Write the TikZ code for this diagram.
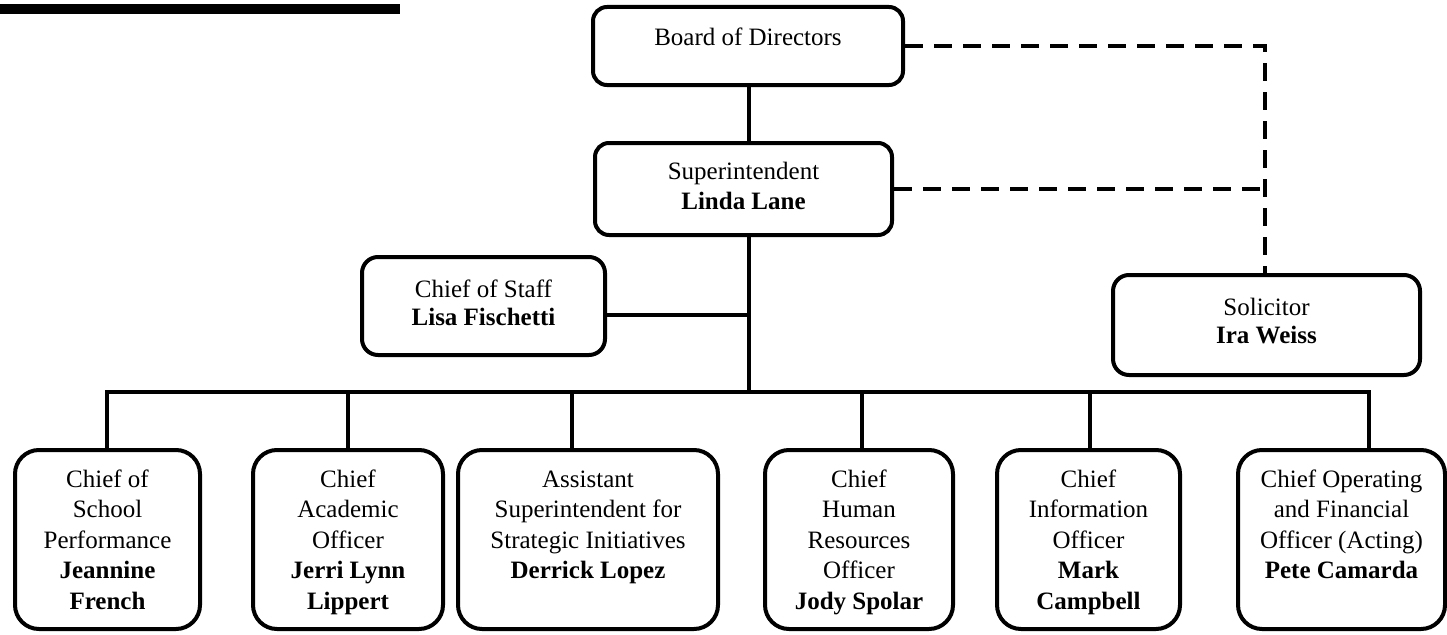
\documentclass[tikz,border=0pt]{standalone}
\usepackage{fontspec}
\setmainfont{Liberation Serif}
\newcommand\bxt[5]{\parbox[c][#2pt][t]{#1pt}{\vspace*{#3pt}\centering\fontsize{25}{#4}\selectfont\rule{0pt}{18pt}#5\par}}
\begin{document}
\begin{tikzpicture}[x=1pt,y=-1pt,
  box/.style={draw, line width=4pt, inner sep=0pt, rounded corners=#1},
  box/.default=24pt,
  link/.style={line width=3.5pt, line join=miter},
  dashlink/.style={line width=4pt, dash pattern=on 18pt off 11pt}]
\useasboundingbox (0,0) rectangle (1447,634);
% partial bar at top left
\fill (0,4) rectangle (400,14);
% top nodes
\node[box=14pt] (board) at (748,46) {\bxt{310}{78}{21}{29}{Board of Directors}};
\node[box=14pt] (super) at (743.5,189) {\bxt{297}{92}{18}{30}{Superintendent\\\textbf{Linda Lane}}};
\node[box=16pt] (cos) at (483.5,306) {\bxt{243}{98}{22}{28}{Chief of Staff\\\textbf{Lisa Fischetti}}};
\node[box=16pt] (sol) at (1266.5,325) {\bxt{307}{100}{22}{28}{Solicitor\\\textbf{Ira Weiss}}};
% bottom nodes
\node[box] (b1) at (107.5,539.5) {\bxt{185}{179}{19}{30.5}{Chief of\\School\\Performance\\\textbf{Jeannine}\\\textbf{French}}};
\node[box] (b2) at (348,539.5) {\bxt{190}{179}{19}{30.5}{Chief\\Academic\\Officer\\\textbf{Jerri Lynn}\\\textbf{Lippert}}};
\node[box] (b3) at (588,539.5) {\bxt{260}{179}{19}{30.5}{Assistant\\Superintendent for\\Strategic Initiatives\\\textbf{Derrick Lopez}}};
\node[box] (b4) at (859,539.5) {\bxt{188}{179}{19}{30.5}{Chief\\Human\\Resources\\Officer\\\textbf{Jody Spolar}}};
\node[box] (b5) at (1088.5,539.5) {\bxt{183}{179}{19}{30.5}{Chief\\Information\\Officer\\\textbf{Mark}\\\textbf{Campbell}}};
\node[box] (b6) at (1341.5,539.5) {\bxt{207}{179}{19}{30.5}{Chief Operating\\and Financial\\Officer (Acting)\\\textbf{Pete Camarda}}};
% junction coordinates
\coordinate (spine) at (749,392);
\coordinate (cosj) at (749,315);
\coordinate (t1) at (107,392);
\coordinate (t2) at (348,392);
\coordinate (t3) at (572,392);
\coordinate (t4) at (862,392);
\coordinate (t5) at (1090,392);
\coordinate (t6) at (1369,392);
\coordinate (dj) at (1265,46);
% solid connectors
\draw[link] (board.south -| spine) -- (super.north -| spine);
\draw[link] (super.south -| spine) -- (spine);
\draw[link] (cos.east |- cosj) -- (cosj);
\draw[link] (b1.north -| t1) -- (t1) -- (t6) -- (b6.north -| t6);
\draw[link] (b2.north -| t2) -- (t2);
\draw[link] (b3.north -| t3) -- (t3);
\draw[link] (b4.north -| t4) -- (t4);
\draw[link] (b5.north -| t5) -- (t5);
% dashed connectors
\draw[dashlink] (board.east) -- (dj) -- (sol.north -| dj);
\draw[dashlink] (super.east) -- (super.east -| dj);
\end{tikzpicture}
\end{document}
